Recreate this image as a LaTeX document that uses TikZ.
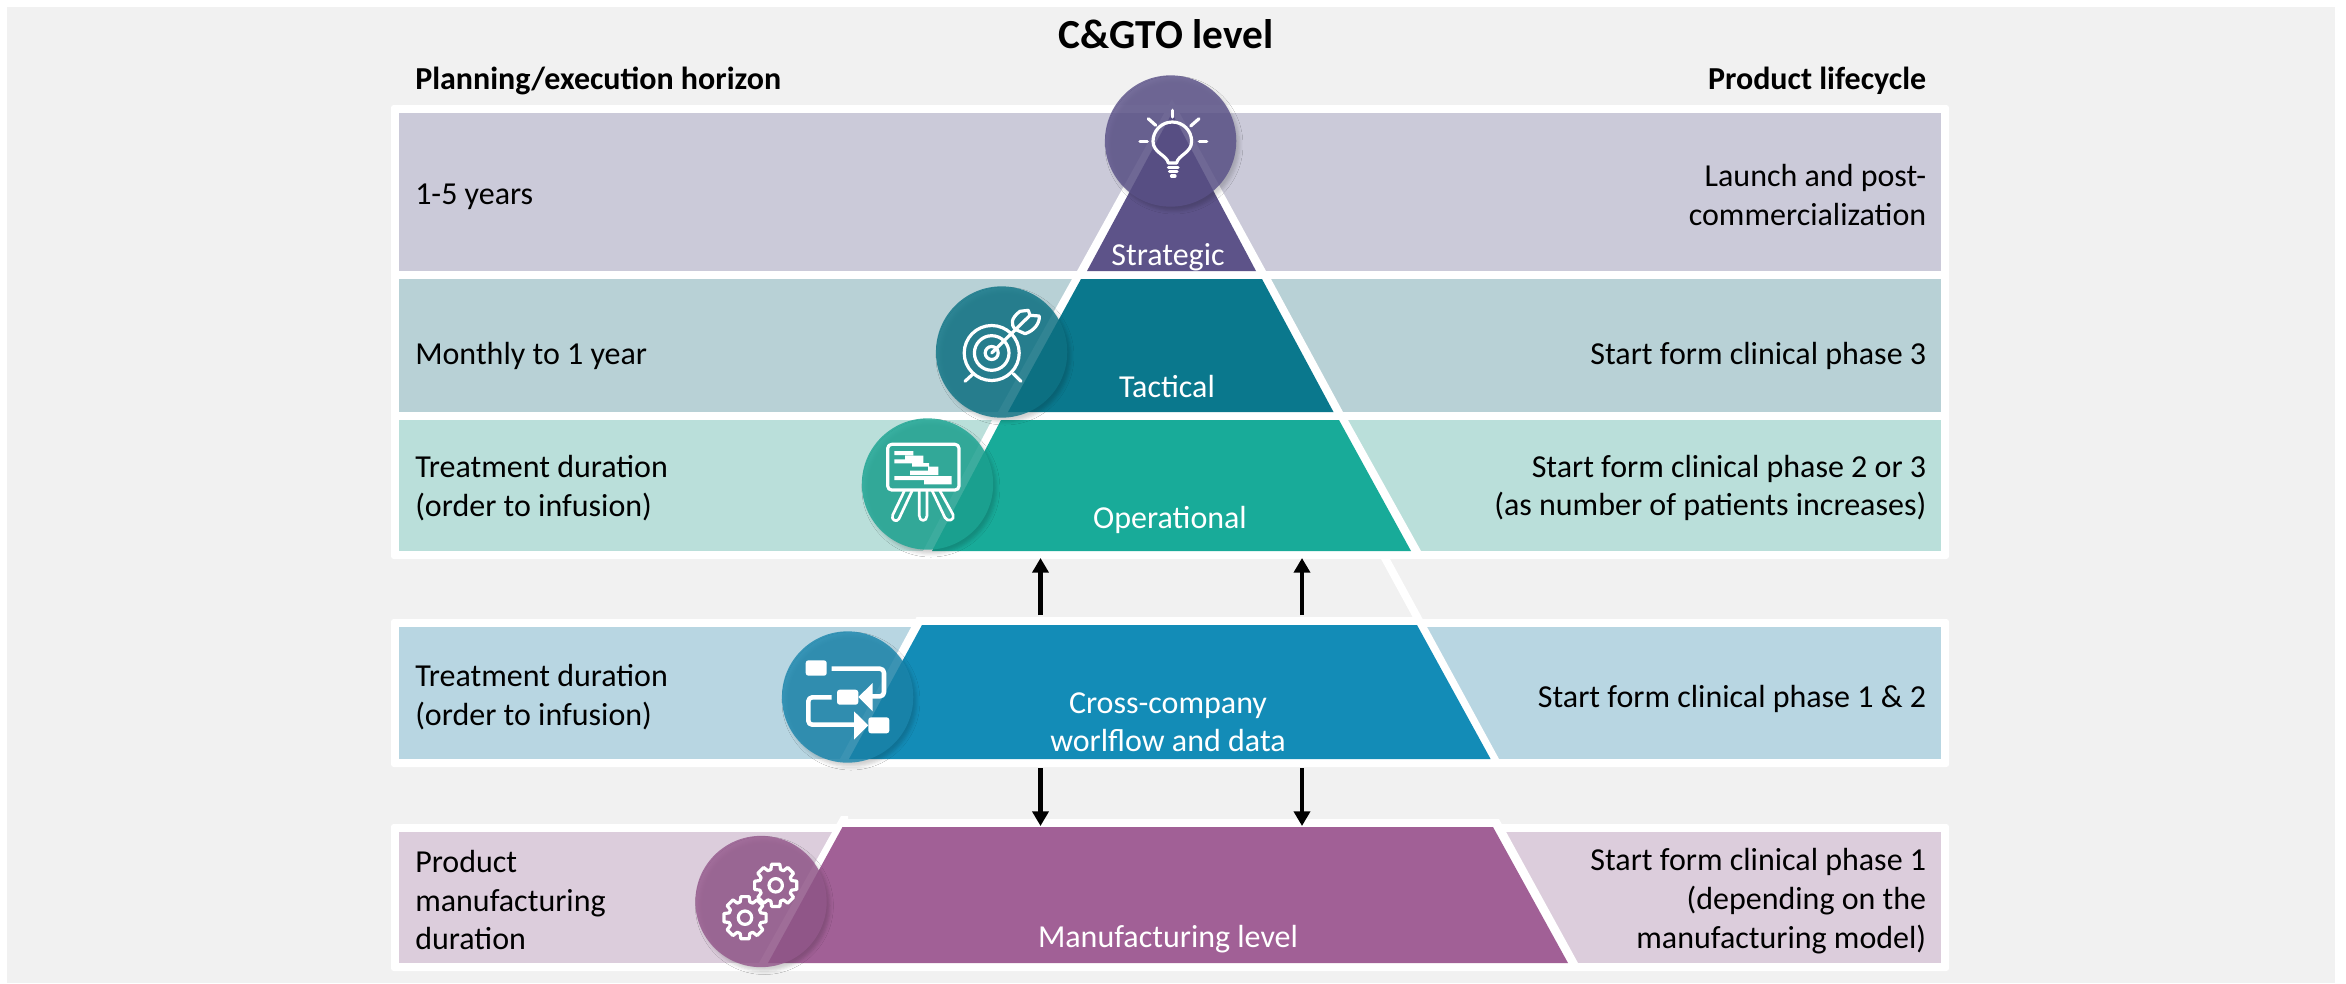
\documentclass[tikz,border=0pt]{standalone}
\usepackage{fontspec}
\setmainfont{Carlito}
\usepackage{xcolor}
\usetikzlibrary{arrows.meta}
\usetikzlibrary{fadings}
\usetikzlibrary{shadows.blur}
\usetikzlibrary{shapes}

\begin{document}
\begin{tikzpicture}[x=0.75pt,y=0.75pt,yscale=-1,xscale=1,
  bodytext/.style={inner sep=0pt,text=black,font=\fontsize{24}{29}\selectfont},
  headtext/.style={inner sep=0pt,text=black,font=\fontsize{24}{29}\selectfont\bfseries},
  leveltext/.style={inner sep=0pt,text=white,align=center,font=\fontsize{24}{28.5}\selectfont},
  iconcircle/.style={circle,minimum size=98.5pt,inner sep=0pt,fill opacity=0.82,
    blur shadow={shadow xshift=2.5pt,shadow yshift=-3pt,shadow blur radius=2.5pt,shadow opacity=22}},
  iconline/.style={draw=white,line width=2.4pt,line cap=round,line join=round},
  iconfill/.style={fill=white,rounded corners=2pt},
  flowarrow/.style={draw=black,line width=3.6pt,-{Triangle[length=11pt,width=12pt]}},
  whiteframe/.style={fill=white,rounded corners=2pt},
  whitecut/.style={fill=white}]

%Shape: Rectangle [background]
\fill [white] (0,0) rectangle (2346,983);
\fill [color={rgb, 255:red, 241; green, 241; blue, 241 }] (7,7) rectangle (2335,983);
\useasboundingbox (0,0) rectangle (2346,983);

%Shape: Rounded Rect [frames]
\path [whiteframe] (391,105) rectangle (1949,559);
\path [whiteframe] (391,619) rectangle (1949,767);
\path [whiteframe] (391,824) rectangle (1949,971);

%Shape: Rectangle [bands]
\fill [color={rgb, 255:red, 203; green, 202; blue, 217 }] (399,113) rectangle (1941,271);
\fill [color={rgb, 255:red, 184; green, 209; blue, 214 }] (399,279) rectangle (1941,412);
\fill [color={rgb, 255:red, 186; green, 223; blue, 218 }] (399,420) rectangle (1941,551);
\fill [color={rgb, 255:red, 184; green, 214; blue, 226 }] (399,627) rectangle (1941,759);
\fill [color={rgb, 255:red, 220; green, 205; blue, 220 }] (399,832) rectangle (1941,963);

%Shape: Polygon [white outlines]
\path [whitecut] (1172,99) -- (1266,271) -- (1077,271) -- cycle ;
\path [whitecut] (1072,279) -- (1271,279) -- (1343,412) -- (998,412) -- cycle ;
\path [whitecut] (992,420) -- (1348,420) -- (1421,551) -- (923,551) -- cycle ;
\path [whitecut] (1381,559) -- (1390,559) -- (1421.6,617) -- (1412.6,617) -- cycle ;
\path [whitecut] (916.6,617) -- (1421.6,617) -- (1499,759) -- (840,759) -- cycle ;
\path [whitecut] (841,816) -- (848,816) -- (848,819) -- (1499,819) -- (1578,963) -- (759,963) -- cycle ;

%Shape: Polygon [pyramid levels]
\fill [color={rgb, 255:red, 93; green, 83; blue, 137 }] (1172,113) -- (1256,271) -- (1087,271) -- cycle ;
\fill [color={rgb, 255:red, 10; green, 120; blue, 141 }] (1081,279) -- (1262,279) -- (1333.5,412) -- (1008,412) -- cycle ;
\fill [color={rgb, 255:red, 24; green, 171; blue, 153 }] (1001,420) -- (1339,420) -- (1411,551) -- (932,551) -- cycle ;
\fill [color={rgb, 255:red, 19; green, 140; blue, 183 }] (922,625) -- (1417,625) -- (1490.6,759) -- (849,759) -- cycle ;
\fill [color={rgb, 255:red, 161; green, 96; blue, 150 }] (842.5,827) -- (1493,827) -- (1568,963) -- (768,963) -- cycle ;

%Straight Lines [arrows between levels]
\coordinate (tailUpLeft) at (1040.5,615);
\coordinate (tipUpLeft) at (1040.5,558);
\coordinate (tailUpRight) at (1302,615);
\coordinate (tipUpRight) at (1302,558);
\coordinate (tailDownLeft) at (1040.5,768);
\coordinate (tipDownLeft) at (1040.5,826);
\coordinate (tailDownRight) at (1302,768);
\coordinate (tipDownRight) at (1302,826);
\draw [flowarrow] (tailUpLeft) -- (tipUpLeft) ;
\draw [flowarrow] (tailUpRight) -- (tipUpRight) ;
\draw [flowarrow] (tailDownLeft) -- (tipDownLeft) ;
\draw [flowarrow] (tailDownRight) -- (tipDownRight) ;

%Shape: Circle [icon discs]
\node (discStrategic) [iconcircle,fill={rgb, 255:red, 90; green, 81; blue, 136 }] at (1170.6,141) {};
\node (discTactical) [iconcircle,fill={rgb, 255:red, 14; green, 116; blue, 134 }] at (1001.6,352) {};
\node (discOperational) [iconcircle,fill={rgb, 255:red, 28; green, 165; blue, 147 }] at (927.5,484) {};
\node (discWorkflow) [iconcircle,fill={rgb, 255:red, 26; green, 134; blue, 173 }] at (847.6,697) {};
\node (discManufacturing) [iconcircle,fill={rgb, 255:red, 148; green, 88; blue, 140 }] at (761,901.5) {};

%Shape: Path Data [bulb icon]
\draw [iconline] (1168.3,163) .. controls (1167,155) and (1153,153) .. (1153,141.3) .. controls (1153,130.6) and (1161.6,122) .. (1172.3,122) .. controls (1183,122) and (1191.6,130.6) .. (1191.6,141.3) .. controls (1191.6,153) and (1178,155) .. (1176.6,163) -- cycle ;
\draw [iconline] (1172.7,110.3) -- (1172.7,117) ;
\draw [iconline] (1148.3,118.7) -- (1155.7,125.3) ;
\draw [iconline] (1199,118.7) -- (1190.7,126) ;
\draw [iconline] (1140,141.3) -- (1147.3,141.3) ;
\draw [iconline] (1199.3,141.3) -- (1206.7,141.3) ;
\draw [iconline] (1168.5,167.2) -- (1178,167.2) ;
\draw [iconline] (1169.5,171.5) -- (1177,171.5) ;
\draw [iconline] (1171.5,176) -- (1175,176) ;

%Shape: Path Data [target icon]
\draw [iconline] (991.7,353) circle (27.5) ;
\draw [iconline] (991.7,353) circle (17.3) ;
\draw [iconline] (991.7,353) circle (6.5) ;
\draw [iconline] (965,381.3) -- (973.3,373.7) ;
\draw [iconline] (1021,381.3) -- (1013.3,373.7) ;
\draw [iconline] (991.7,353) -- (1030,315.3) ;
\draw [iconline] (1016,329.7) .. controls (1010,325) and (1011,318) .. (1020,311.3) -- (1028.3,310.3) -- (1030,315.3) -- (1039.3,316) .. controls (1040,323) and (1034,331) .. (1025,333.7) -- cycle ;

%Shape: Path Data [board icon]
\draw [iconline,rounded corners=3pt] (887.7,444.3) rectangle (959,490) ;
\fill [white] (894.3,451) rectangle (913.3,455) (905,455.7) rectangle (923.3,459) (894.3,459.3) rectangle (923.3,463.3) (912,463) rectangle (929,466.7) (928,466.7) rectangle (938.3,470.7) (910,470.7) rectangle (938.3,475) (894.3,476) rectangle (951.7,480) (924,480.3) rectangle (951.7,484.3) ;
\draw [iconline,line width=2pt] (904.3,491) -- (892.7,515) .. controls (890.5,520) and (897,523) .. (899,518.7) -- (912,491) ;
\draw [iconline,line width=2pt] (919.3,491) -- (919.3,515.7) .. controls (919.3,522) and (927,522) .. (927,515.7) -- (927,491) ;
\draw [iconline,line width=2pt] (932.3,491) -- (945,517.7) .. controls (947.5,522.5) and (955.5,520) .. (953,514.5) -- (940,491) ;

%Shape: Path Data [workflow icon]
\path [iconfill] (805.7,660.3) rectangle (826.7,675.7) ;
\path [iconfill] (837,689.7) rectangle (858.3,704.7) ;
\path [iconfill] (868.3,717.3) rectangle (889.3,733.3) ;
\draw [iconline,line width=3.4pt,line cap=butt,rounded corners=3pt] (831.7,668.7) -- (884,668.7) -- (884,696.3) -- (868,696.3) ;
\draw [iconline,line width=3.4pt,line cap=butt,rounded corners=3pt] (831.7,697.3) -- (808.3,697.3) -- (808.3,724.7) -- (855,724.7) ;
\fill [white] (858.3,697) -- (872.7,683) -- (872.7,711.3) -- cycle ;
\fill [white] (868.3,725.3) -- (854,711.3) -- (854,739.7) -- cycle ;

%Shape: Path Data [gears icon]
\foreach \gearx/\geary in {775.7/885.3,745/917.7}{
  \draw [iconline,shift={(\gearx,\geary)}] (-17:16.5) \foreach \a in {0,45,...,315}{ -- (\a-17:16.5) -- (\a-11:21.5) -- (\a+11:21.5) -- (\a+17:16.5) } -- cycle ;
  \draw [iconline,shift={(\gearx,\geary)}] (0,0) circle (6.7) ;
}

% Text Node
\node (titleLevel) [headtext,font=\fontsize{31}{37}\selectfont\bfseries] at (1166,34) {C\&GTO level};
% Text Node
\node (headHorizon) [headtext,anchor=west] at (415,81) {Planning/execution horizon};
% Text Node
\node (headLifecycle) [headtext,anchor=east] at (1926.5,81) {Product lifecycle};

% Text Node
\node (horizonStrategic) [bodytext,anchor=west,align=left] at (415,197) {1-5 years};
\node (horizonTactical) [bodytext,anchor=west,align=left] at (415,355.5) {Monthly to 1 year};
\node (horizonOperational) [bodytext,anchor=west,align=left] at (415,488) {Treatment duration\\(order to infusion)};
\node (horizonWorkflow) [bodytext,anchor=west,align=left] at (415,697) {Treatment duration\\(order to infusion)};
\node (horizonManufacturing) [bodytext,anchor=west,align=left] at (415,900) {Product\\manufacturing\\duration};

% Text Node
\node (lifeStrategic) [bodytext,anchor=east,align=right] at (1926.5,195) {Launch and post-\\commercialization};
\node (lifeTactical) [bodytext,anchor=east,align=right] at (1926.5,355.5) {Start form clinical phase 3};
\node (lifeOperational) [bodytext,anchor=east,align=right] at (1926.5,488) {Start form clinical phase 2 or 3\\(as number of patients increases)};
\node (lifeWorkflow) [bodytext,anchor=east,align=right] at (1926.5,699) {Start form clinical phase 1 \& 2};
\node (lifeManufacturing) [bodytext,anchor=east,align=right] at (1926.5,901) {Start form clinical phase 1\\(depending on the\\manufacturing model)};

% Text Node
\node (levelStrategic) [leveltext,anchor=base] at (1168,265) {Strategic};
\node (levelTactical) [leveltext,anchor=base] at (1167,397) {Tactical};
\node (levelOperational) [leveltext,anchor=base] at (1170,528) {Operational};
\node (levelWorkflow) [leveltext] at (1168,722) {Cross-company\\worlflow and data};
\node (levelManufacturing) [leveltext,anchor=base] at (1168,947) {Manufacturing level};

\end{tikzpicture}
\end{document}
